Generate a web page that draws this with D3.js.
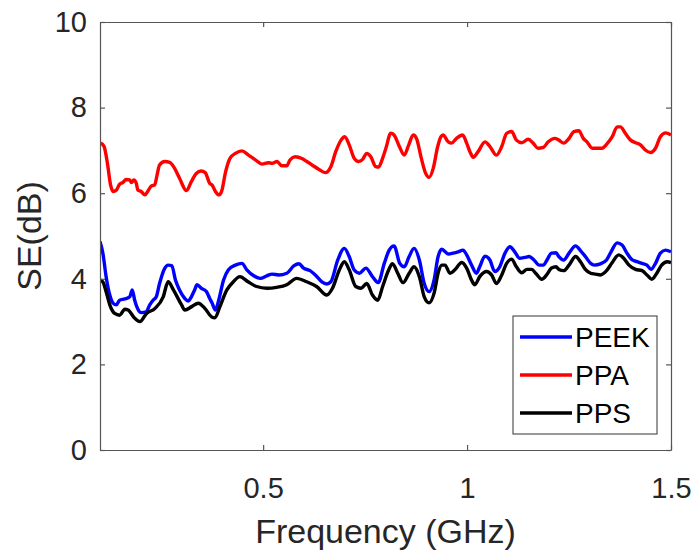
<!DOCTYPE html>
<html>
<head>
<meta charset="utf-8">
<script src="https://cdn.jsdelivr.net/npm/d3@7"></script>
<style>
  body { margin: 0; background: #fff; }
  svg { display: block; font-family: "Liberation Sans", Arial, sans-serif; }
</style>
</head>
<body>
<div id="chart-area"></div>
<script>
// values
var seriesNames = ["PEEK", "PPA", "PPS"];
var seriesColors = ["#0000ff", "#ff0000", "#000000"];

var peekFreq = [0.100,0.107,0.115,0.124,0.132,0.140,0.148,0.161,0.173,0.179,
  0.185,0.193,0.201,0.213,0.222,0.230,0.238,0.246,0.259,0.267,
  0.276,0.285,0.295,0.308,0.316,0.324,0.332,0.338,0.348,0.361,
  0.369,0.375,0.383,0.391,0.403,0.415,0.432,0.448,0.460,0.477,
  0.493,0.509,0.522,0.538,0.558,0.575,0.588,0.599,0.615,0.632,
  0.644,0.656,0.666,0.683,0.699,0.711,0.723,0.736,0.752,0.768,
  0.782,0.797,0.809,0.821,0.835,0.846,0.858,0.870,0.883,0.895,
  0.907,0.919,0.929,0.938,0.954,0.966,0.978,0.990,0.999,1.011,
  1.023,1.031,1.044,1.056,1.068,1.080,1.093,1.105,1.117,1.129,
  1.142,1.152,1.164,1.177,1.187,1.196,1.207,1.218,1.225,1.237,
  1.250,1.266,1.278,1.290,1.303,1.312,1.327,1.342,1.353,1.368,
  1.380,1.392,1.405,1.417,1.429,1.441,1.451,1.462,1.474,1.487,
  1.500];
var peekSE = [4.87,4.60,4.05,3.62,3.43,3.39,3.50,3.53,3.58,3.74,
  3.50,3.29,3.21,3.23,3.39,3.50,3.58,3.89,4.25,4.32,
  4.31,3.97,3.74,3.54,3.48,3.58,3.74,3.86,3.78,3.70,
  3.54,3.43,3.27,3.50,3.97,4.21,4.32,4.36,4.21,4.07,
  4.01,4.07,4.11,4.09,4.13,4.30,4.35,4.25,4.19,4.05,
  3.93,3.88,3.93,4.44,4.71,4.52,4.21,4.13,4.25,4.05,
  3.91,4.36,4.67,4.77,4.36,4.28,4.52,4.71,4.44,3.89,
  3.70,3.97,4.52,4.69,4.58,4.60,4.63,4.67,4.56,4.32,
  4.13,4.28,4.53,4.44,4.17,4.28,4.60,4.75,4.63,4.48,
  4.50,4.52,4.44,4.32,4.32,4.44,4.60,4.61,4.52,4.44,
  4.60,4.77,4.66,4.52,4.36,4.32,4.35,4.44,4.63,4.84,
  4.79,4.60,4.44,4.40,4.36,4.32,4.22,4.36,4.60,4.67,
  4.63];

var ppaFreq = [0.102,0.110,0.118,0.126,0.132,0.140,0.148,0.156,0.164,0.173,
  0.177,0.183,0.189,0.193,0.201,0.210,0.218,0.226,0.234,0.240,
  0.246,0.259,0.271,0.283,0.295,0.312,0.324,0.336,0.348,0.358,
  0.369,0.375,0.383,0.392,0.399,0.407,0.419,0.432,0.448,0.464,
  0.481,0.497,0.513,0.522,0.534,0.546,0.558,0.566,0.579,0.595,
  0.607,0.620,0.636,0.652,0.666,0.678,0.691,0.700,0.711,0.723,
  0.734,0.744,0.754,0.764,0.776,0.783,0.793,0.801,0.813,0.821,
  0.834,0.846,0.857,0.868,0.876,0.887,0.897,0.907,0.917,0.928,
  0.936,0.941,0.954,0.962,0.974,0.989,0.999,1.007,1.015,1.027,
  1.044,1.056,1.072,1.085,1.097,1.109,1.121,1.134,1.150,1.162,
  1.174,1.187,1.199,1.215,1.225,1.237,1.250,1.262,1.274,1.285,
  1.294,1.307,1.319,1.331,1.343,1.356,1.368,1.376,1.388,1.401,
  1.413,1.425,1.437,1.450,1.462,1.474,1.487,1.500];
var ppaSE = [7.17,7.09,6.71,6.19,6.04,6.07,6.21,6.25,6.32,6.31,
  6.25,6.31,6.23,6.07,6.04,5.96,6.06,6.17,6.19,6.43,
  6.66,6.74,6.72,6.58,6.35,6.06,6.27,6.46,6.52,6.48,
  6.23,6.19,6.04,5.96,6.07,6.46,6.82,6.93,6.99,6.89,
  6.78,6.68,6.71,6.70,6.74,6.64,6.64,6.78,6.85,6.81,
  6.74,6.66,6.56,6.48,6.62,6.97,7.24,7.32,7.13,6.82,
  6.74,6.79,6.93,6.85,6.62,6.61,6.82,7.05,7.40,7.36,
  7.09,6.89,7.13,7.36,7.28,6.85,6.50,6.37,6.58,7.09,
  7.32,7.36,7.20,7.17,7.28,7.36,7.17,6.97,6.84,6.97,
  7.20,7.09,6.89,7.09,7.40,7.44,7.24,7.18,7.26,7.17,
  7.05,7.07,7.20,7.28,7.24,7.17,7.28,7.44,7.46,7.28,
  7.20,7.05,7.05,7.05,7.15,7.32,7.55,7.55,7.40,7.24,
  7.18,7.13,7.01,6.95,7.05,7.32,7.41,7.36];

var ppsFreq = [0.100,0.107,0.115,0.124,0.136,0.148,0.161,0.169,0.177,0.185,
  0.198,0.214,0.235,0.255,0.267,0.280,0.300,0.308,0.325,0.341,
  0.357,0.374,0.382,0.394,0.411,0.427,0.443,0.463,0.484,0.509,
  0.533,0.558,0.582,0.607,0.631,0.656,0.670,0.687,0.699,0.711,
  0.727,0.740,0.754,0.768,0.781,0.793,0.808,0.817,0.830,0.843,
  0.858,0.870,0.883,0.895,0.907,0.919,0.930,0.938,0.946,0.958,
  0.970,0.987,0.999,1.011,1.019,1.031,1.048,1.060,1.072,1.085,
  1.097,1.109,1.121,1.134,1.147,1.158,1.170,1.183,1.195,1.207,
  1.218,1.225,1.237,1.250,1.266,1.278,1.290,1.303,1.315,1.327,
  1.342,1.356,1.372,1.384,1.397,1.413,1.429,1.441,1.453,1.464,
  1.477,1.491,1.500];
var ppsSE = [3.97,3.93,3.70,3.39,3.19,3.15,3.29,3.27,3.18,3.08,
  3.00,3.19,3.31,3.58,3.93,3.74,3.39,3.27,3.35,3.43,
  3.31,3.11,3.09,3.35,3.74,3.93,4.05,3.93,3.82,3.78,
  3.80,3.86,4.01,3.93,3.82,3.62,3.78,4.21,4.40,4.21,
  3.82,3.78,3.89,3.62,3.50,3.82,4.21,4.35,4.13,3.91,
  4.13,4.28,4.05,3.58,3.44,3.66,4.17,4.32,4.32,4.13,
  4.21,4.38,4.25,3.97,3.86,4.05,4.17,4.09,3.89,4.09,
  4.36,4.46,4.28,4.14,4.22,4.22,4.11,3.99,4.09,4.25,
  4.28,4.22,4.19,4.32,4.52,4.40,4.22,4.13,4.11,4.09,
  4.19,4.38,4.56,4.48,4.32,4.22,4.19,4.09,3.99,4.11,
  4.32,4.40,4.38];

var xTicks = [0.5, 1, 1.5];
var yTicks = [0, 2, 4, 6, 8, 10];

// build series from the arrays
var series = [
  {name: seriesNames[0], color: seriesColors[0], values: peekFreq.map(function(f, i) { return {f: f, v: peekSE[i]}; })},
  {name: seriesNames[1], color: seriesColors[1], values: ppaFreq.map(function(f, i) { return {f: f, v: ppaSE[i]}; })},
  {name: seriesNames[2], color: seriesColors[2], values: ppsFreq.map(function(f, i) { return {f: f, v: ppsSE[i]}; })}
];

var margin = {top: 22, right: 25, bottom: 106, left: 100};
var width = 696 - margin.left - margin.right;
var height = 556 - margin.top - margin.bottom;

var svg = d3.select("#chart-area").append("svg")
  .attr("width", 696)
  .attr("height", 556)
  .append("g")
  .attr("transform", "translate(" + margin.left + "," + margin.top + ")");

var x = d3.scaleLinear().domain([0.1, 1.5]).range([0, width]);
var y = d3.scaleLinear().domain([0, 10]).range([height, 0]);

var axisColor = "#555";
var textColor = "#262626";

svg.append("defs").append("clipPath").attr("id", "clip")
  .append("rect").attr("width", width).attr("height", height);

// lines
var line = d3.line()
  .x(function(d) { return x(d.f); })
  .y(function(d) { return y(d.v); })
  .curve(d3.curveMonotoneX);

svg.append("g").attr("clip-path", "url(#clip)")
  .selectAll("path")
  .data(series)
  .enter()
  .append("path")
  .attr("d", function(d) { return line(d.values); })
  .attr("fill", "none")
  .attr("stroke", function(d) { return d.color; })
  .attr("stroke-width", 3.4)
  .attr("stroke-linejoin", "round");

// axes, ticks pointing inward, mirrored on top and right
var xAxis = d3.axisBottom(x).tickValues(xTicks).tickFormat(d3.format("")).tickSizeInner(-5).tickSizeOuter(0).tickPadding(27);
var yAxis = d3.axisLeft(y).tickValues(yTicks).tickSizeInner(-5).tickSizeOuter(0).tickPadding(13);
var xTop = d3.axisTop(x).tickValues(xTicks).tickFormat("").tickSizeInner(-5).tickSizeOuter(0);
var yRight = d3.axisRight(y).tickValues(yTicks).tickFormat("").tickSizeInner(-5).tickSizeOuter(0);

svg.append("g").attr("class", "axis").attr("transform", "translate(0," + height + ")").call(xAxis);
svg.append("g").attr("class", "axis").call(yAxis);
svg.append("g").attr("class", "axis").call(xTop);
svg.append("g").attr("class", "axis").attr("transform", "translate(" + width + ",0)").call(yRight);

svg.selectAll(".axis path, .axis line").attr("stroke", axisColor).attr("stroke-width", 1.2);
svg.selectAll(".axis text")
  .attr("fill", textColor)
  .style("font-size", "29px")
  .style("font-family", "'Liberation Sans', Arial, sans-serif");

// axis labels
svg.append("text")
  .attr("x", width / 2)
  .attr("y", height + 93)
  .attr("text-anchor", "middle")
  .attr("fill", textColor)
  .style("font-size", "34px")
  .text("Frequency (GHz)");

svg.append("text")
  .attr("transform", "translate(" + (-59) + "," + (height / 2) + ") rotate(-90)")
  .attr("text-anchor", "middle")
  .attr("fill", textColor)
  .style("font-size", "34px")
  .text("SE(dB)");

// legend
var legend = svg.append("g").attr("transform", "translate(" + (width - 158) + "," + (height - 134) + ")");
legend.append("rect")
  .attr("width", 144)
  .attr("height", 118)
  .attr("fill", "#fff")
  .attr("stroke", "#333")
  .attr("stroke-width", 1);

var items = legend.selectAll("g.item")
  .data(series)
  .enter()
  .append("g")
  .attr("class", "item")
  .attr("transform", function(d, i) { return "translate(0," + (21 + i * 38) + ")"; });

items.append("line")
  .attr("x1", 7).attr("x2", 59)
  .attr("stroke", function(d) { return d.color; })
  .attr("stroke-width", 3.4);

items.append("text")
  .attr("x", 62)
  .attr("dy", "0.36em")
  .attr("fill", "#000")
  .style("font-size", "28px")
  .text(function(d) { return d.name; });
</script>
</body>
</html>
